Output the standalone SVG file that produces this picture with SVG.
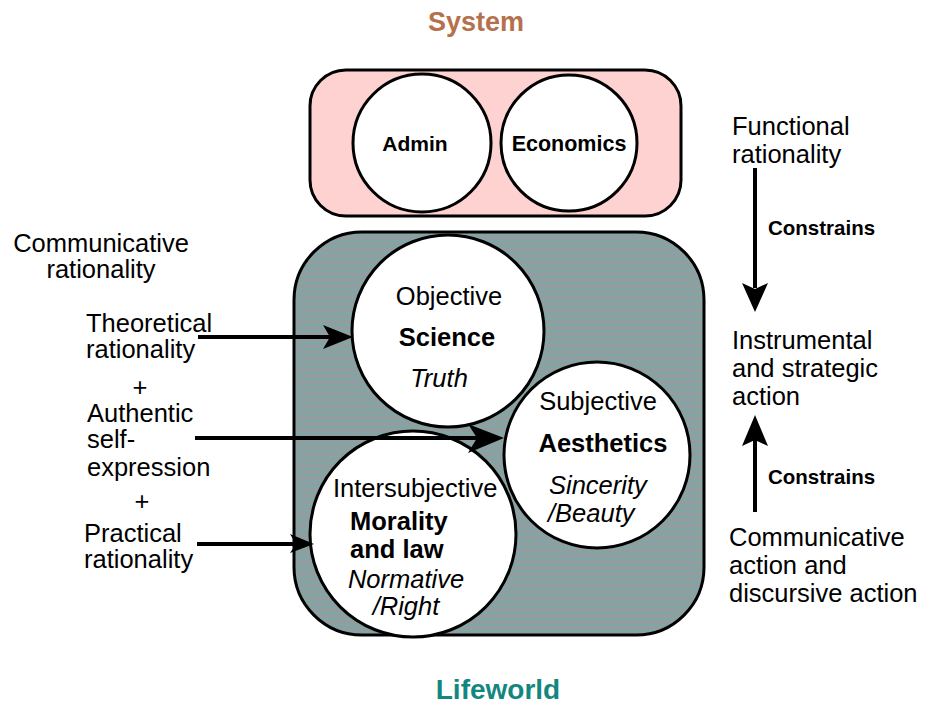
<svg xmlns="http://www.w3.org/2000/svg" width="925" height="706" viewBox="0 0 925 706">
  <style>
    text { font-family: "Liberation Sans", Arial, sans-serif; fill: #000; }
    .t { font-size: 25.5px; }
    .b { font-weight: bold; }
    .i { font-style: italic; }
    .mid { text-anchor: middle; }
    .small { font-size: 20.5px; font-weight: bold; }
    .box { stroke: #000; stroke-width: 3; }
    .circle { fill: #fff; stroke: #000; stroke-width: 3; }
    .line { stroke: #000; stroke-width: 4; fill: none; }
    .head { fill: #000; stroke: none; }
  </style>
  <defs>
    <!-- streaked grey/teal fill of the lifeworld -->
    <pattern id="streaks" width="4" height="6" patternUnits="userSpaceOnUse">
      <rect width="4" height="6" fill="#8ba0a0"/>
      <rect x="0" y="0" width="4" height="1" fill="#76abab"/>
      <rect x="1" y="2" width="1" height="1" fill="#a09898"/>
      <rect x="3" y="2" width="1" height="1" fill="#a09898"/>
      <rect x="0" y="4" width="1" height="1" fill="#a09898"/>
      <rect x="2" y="4" width="1" height="1" fill="#a09898"/>
    </pattern>
  </defs>

  <rect width="925" height="706" fill="#fff"/>

  <!-- headings -->
  <text class="b mid" x="476" y="31" style="font-size:27px;fill:#b5714c">System</text>
  <text class="b mid" x="498" y="699" style="font-size:28px;fill:#12877f">Lifeworld</text>

  <!-- system box -->
  <g id="system">
    <rect class="box" x="310" y="70" width="371" height="146" rx="36" ry="36" fill="#ffd2d2"/>
  </g>
  <g id="admin">
    <circle class="circle" cx="422" cy="143" r="69"/>
    <text class="b mid" x="415" y="151" style="font-size:21px">Admin</text>
  </g>
  <g id="economics">
    <circle class="circle" cx="569" cy="143" r="68"/>
    <text class="b mid" x="569" y="151" style="font-size:21.5px">Economics</text>
  </g>

  <!-- lifeworld box -->
  <g id="lifeworld">
    <rect class="box" x="294" y="232" width="410" height="403" rx="68" ry="68" fill="url(#streaks)"/>
  </g>

  <g id="objective">
    <circle class="circle" cx="448" cy="331" r="96"/>
    <text class="t mid" x="449" y="305">Objective</text>
    <text class="t b mid" x="447" y="346">Science</text>
    <text class="t i mid" x="439" y="387">Truth</text>
  </g>
  <g id="intersubjective">
    <circle class="circle" cx="413" cy="534" r="103"/>
    <text class="t b" x="350" y="530">Morality</text>
    <text class="t b" x="350" y="558">and law</text>
    <text class="t i mid" x="406" y="588">Normative</text>
    <text class="t i mid" x="406" y="615">/Right</text>
  </g>
  <g id="subjective">
    <circle class="circle" cx="597" cy="455" r="93"/>
    <text class="t mid" x="598" y="410">Subjective</text>
    <text class="t b mid" x="603" y="452">Aesthetics</text>
    <text class="t i" x="549" y="494">Sincerity</text>
    <text class="t i" x="548" y="522">/Beauty</text>
  </g>
  <!-- Intersubjective label sits above the subjective circle edge -->
  <text class="t" x="333" y="497">Intersubjective</text>

  <!-- left-hand labels -->
  <g id="communicative-rationality">
    <text class="t mid" x="101" y="252">Communicative</text>
    <text class="t mid" x="101" y="278">rationality</text>
  </g>
  <g id="theoretical">
    <text class="t" x="86" y="332">Theoretical</text>
    <text class="t" x="86" y="358">rationality</text>
  </g>
  <text class="t mid" x="140" y="396">+</text>
  <g id="authentic">
    <text class="t" x="87" y="422">Authentic</text>
    <text class="t" x="87" y="448">self-</text>
    <text class="t" x="87" y="476">expression</text>
  </g>
  <text class="t mid" x="142" y="510">+</text>
  <g id="practical">
    <text class="t" x="84" y="542">Practical</text>
    <text class="t" x="84" y="568">rationality</text>
  </g>

  <!-- right-hand labels -->
  <g id="functional">
    <text class="t" x="732" y="135">Functional</text>
    <text class="t" x="732" y="163">rationality</text>
  </g>
  <g id="instrumental">
    <text class="t" x="732" y="349">Instrumental</text>
    <text class="t" x="732" y="377">and strategic</text>
    <text class="t" x="732" y="405">action</text>
  </g>
  <g id="communicative-action">
    <text class="t" x="729" y="546">Communicative</text>
    <text class="t" x="729" y="574">action and</text>
    <text class="t" x="729" y="602">discursive action</text>
  </g>
  <text class="small" x="768" y="235">Constrains</text>
  <text class="small" x="768" y="484">Constrains</text>

  <!-- connectors -->
  <g id="connectors">
    <line class="line" x1="198" y1="337" x2="332" y2="337"/>
    <path class="head" d="M353,337 L323,325 L330,337 L323,349 Z"/>

    <line class="line" x1="195" y1="438" x2="478" y2="438"/>
    <path class="head" d="M504,438 L468,424 L477,438 L468,453 Z"/>

    <line class="line" x1="197" y1="544" x2="296" y2="544"/>
    <path class="head" d="M314,544 L290,534 L296,544 L290,553 Z"/>

    <line class="line" x1="755" y1="168" x2="755" y2="288"/>
    <path class="head" d="M755,312 L742,283 L755,289 L768,283 Z"/>

    <line class="line" x1="755" y1="512" x2="755" y2="440"/>
    <path class="head" d="M755,415 L742,446 L755,440 L768,446 Z"/>
  </g>
</svg>
